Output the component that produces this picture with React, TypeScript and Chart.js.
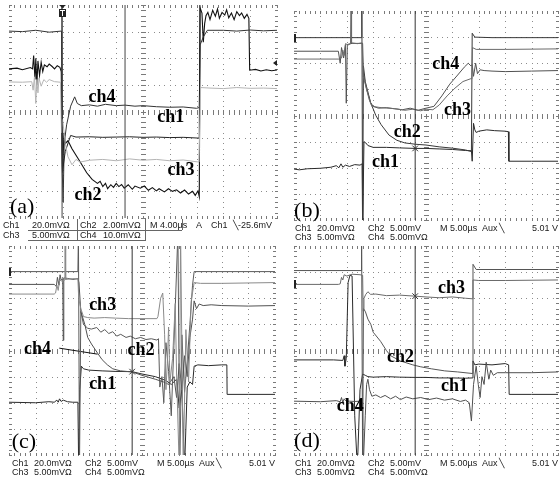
import React, { useEffect, useRef } from "react";
import { Chart, registerables } from "chart.js";
Chart.register(...registerables);

type Pt = [number, number];

// ---------- graticule (divisions) ----------
const X_DIVS = [0, 1, 2, 3, 4, 5, 6, 7, 8, 9, 10];
const Y_DIVS = [-4, -3, -2, -1, 0, 1, 2, 3, 4];

// ---------- panel (a) : 4.00 us/div ----------
const A_CH1: Pt[] = [[0,5],[1.97,5],[2.0,-2.2],[2.1,-1.5],[2.3,-0.9],[2.5,-0.96],[3,-0.95],[3.5,-0.97],[4,-0.96],[4.5,-0.95],[5,-0.97],[5.5,-0.96],[6,-0.98],[6.5,-0.97],[7.1,-1.0],[7.13,5],[10,5]];
const A_CH2: Pt[] = [[0,1.6],[0.3,1.63],[0.5,1.57],[0.8,1.65],[0.88,1.6],[0.92,2.1],[0.97,1.2],[1.0,2.0],[1.04,1.0],[1.08,1.9],[1.14,1.35],[1.2,1.85],[1.26,1.5],[1.32,1.75],[1.42,1.68],[1.5,1.78],[1.6,1.7],[1.7,1.6],[1.8,1.72],[1.9,1.66],[1.95,1.5],[1.98,-1.5],[2.0,-2.3],[2.05,-0.8],[2.1,-1.2],[2.2,-1.1],[2.35,-1.4],[2.6,-1.8],[2.9,-2.3],[3.1,-2.55],[3.3,-2.7],[3.4,-2.62],[3.5,-2.82],[3.6,-2.7],[3.68,-2.9],[3.8,-2.75],[3.9,-2.85],[4.0,-2.7],[4.1,-2.82],[4.2,-2.74],[4.3,-2.88],[4.45,-2.75],[4.6,-2.92],[4.7,-2.8],[4.9,-2.88],[5.05,-2.8],[5.2,-2.96],[5.35,-2.86],[5.5,-2.98],[5.6,-2.9],[5.8,-3.02],[5.95,-2.9],[6.1,-3.0],[6.25,-2.94],[6.4,-3.06],[6.55,-2.95],[6.7,-3.1],[6.85,-3.0],[6.95,-3.15],[7.05,-2.98],[7.1,-3.2],[7.13,3.9],[7.2,3.7],[7.25,2.6],[7.3,3.3],[7.35,3.6],[7.42,3.72],[7.5,3.45],[7.6,3.8],[7.7,3.58],[7.78,3.85],[7.85,3.5],[7.95,3.72],[8.05,3.62],[8.12,3.82],[8.2,3.52],[8.3,3.7],[8.4,3.45],[8.5,3.75],[8.6,3.6],[8.68,3.7],[8.78,3.5],[8.88,3.65],[8.95,3.5],[8.98,1.55],[9.2,1.58],[9.4,1.52],[9.6,1.57],[9.8,1.53],[10,1.56]];
const A_CH3: Pt[] = [[0,1.11],[0.5,1.1],[0.85,1.12],[0.9,0.8],[0.95,1.3],[1.0,0.3],[1.04,1.2],[1.08,0.7],[1.12,1.25],[1.2,0.95],[1.3,1.2],[1.4,1.1],[1.5,1.2],[1.7,1.12],[1.92,1.1],[1.96,-0.8],[2.0,-0.3],[2.1,-1.2],[2.2,-1.7],[2.35,-2.0],[2.5,-1.8],[2.65,-1.9],[3.0,-1.83],[3.5,-1.8],[4.0,-1.85],[4.5,-1.78],[5.0,-1.83],[5.5,-1.8],[6.0,-1.85],[6.5,-1.82],[7.09,-1.9],[7.15,0.9],[7.5,0.88],[8,0.86],[8.5,0.9],[9,0.87],[9.5,0.88],[10,0.86]];
const A_CH4: Pt[] = [[0,3.02],[0.5,3.0],[1.0,3.05],[1.5,2.98],[1.96,3.02],[1.98,-2.0],[2.02,-3.4],[2.06,-1.2],[2.15,-0.5],[2.3,0.2],[2.45,0.55],[2.55,0.3],[2.7,0.22],[3.0,0.25],[3.3,0.2],[3.6,0.27],[4.0,0.22],[4.33,0.24],[4.7,0.2],[5.0,0.22],[5.5,0.18],[6.0,0.16],[6.5,0.17],[7.0,0.12],[7.1,0.15],[7.13,2.5],[7.25,2.8],[7.4,3.05],[8,3.05],[8.5,3.02],[9,3.06],[9.5,3.03],[10,3.05]];
const A_CURSORS = [1.98, 4.33];
const A_LABELS = ["ch4", "ch1", "ch3", "ch2"];
const A_LABEL_X = [3.47, 6.04, 6.42, 2.95];
const A_LABEL_Y = [0.54, -0.21, -2.2, -3.14];

// ---------- panel (b) : 5.00 us/div ----------
const B_CH1: Pt[] = [[0,-2.05],[0.2,-2.08],[0.5,-2.04],[1.0,-2.02],[1.4,-1.98],[1.6,-1.92],[1.7,-2.0],[1.78,-1.85],[1.85,-1.98],[1.95,-1.9],[2.1,-1.95],[2.3,-1.88],[2.5,-1.9],[2.58,-1.85],[2.6,-4.5],[2.65,-1.0],[2.72,-1.05],[2.8,-1.15],[3.0,-1.22],[3.5,-1.22],[4.0,-1.24],[4.59,-1.26],[5.0,-1.26],[5.5,-1.28],[6.0,-1.3],[6.5,-1.34],[6.72,-1.35],[6.75,-1.75],[6.8,-0.3],[6.85,-0.55],[6.9,-0.65],[7.0,-0.6],[7.3,-0.55],[7.6,-0.58],[8.0,-0.6],[8.12,-0.62],[8.14,-1.75],[9,-1.75],[10,-1.75]];
const B_CH2: Pt[] = [[0,2.98],[2.55,2.98],[2.57,4.3],[2.6,-4.3],[2.63,1.9],[2.7,1.3],[2.9,0.5],[3.1,0.0],[3.3,-0.35],[3.6,-0.75],[3.9,-0.95],[4.2,-1.05],[4.6,-1.1],[5.0,-1.13],[5.5,-1.2],[6.0,-1.25],[6.5,-1.32],[6.72,-1.38],[6.75,3.15],[6.85,3.0],[7.5,2.98],[10,2.98]];
const B_CH3: Pt[] = [[0,2.16],[1.0,2.16],[1.7,2.16],[1.8,2.2],[1.85,2.5],[1.9,2.3],[1.95,2.75],[2.05,2.7],[2.14,2.75],[2.16,4.3],[2.18,2.78],[2.4,2.75],[2.58,2.78],[2.62,1.5],[2.7,1.2],[2.85,0.6],[2.95,0.35],[3.1,0.33],[3.3,0.3],[3.6,0.28],[3.9,0.25],[4.2,0.2],[4.5,0.24],[4.8,0.18],[5.0,0.24],[5.26,0.22],[5.5,0.4],[5.8,0.75],[6.1,1.05],[6.4,1.3],[6.7,1.41],[6.74,1.4],[6.76,2.6],[6.9,2.53],[8,2.53],[10,2.55]];
const B_CH4: Pt[] = [[0,2.46],[1.0,2.46],[1.68,2.46],[1.75,2.0],[1.8,2.6],[1.88,2.2],[1.95,2.7],[1.98,0.47],[2.02,2.72],[2.2,2.76],[2.5,2.76],[2.6,2.76],[2.63,1.6],[2.75,1.0],[2.9,0.5],[3.0,0.35],[3.2,0.28],[3.5,0.3],[3.8,0.26],[4.1,0.22],[4.4,0.28],[4.7,0.2],[5.0,0.28],[5.3,0.35],[5.6,0.75],[5.9,1.2],[6.2,1.55],[6.45,1.85],[6.6,2.0],[6.7,1.9],[6.75,1.95],[6.8,1.5],[6.88,2.0],[6.95,1.6],[7.05,1.75],[7.2,1.72],[7.5,1.7],[8,1.68],[9,1.7],[10,1.72]];
const B_CURSORS = [4.59];
const B_MARK: Pt[] = [[4.59, -1.26]];
const B_LABELS = ["ch4", "ch3", "ch2", "ch1"];
const B_LABEL_X = [5.75, 6.19, 4.29, 3.47];
const B_LABEL_Y = [1.97, 0.2, -0.66, -1.79];

// ---------- panel (c) ----------
const C_CH1: Pt[] = [[0,-1.98],[1.0,-2.0],[1.5,-1.96],[1.7,-1.98],[1.8,-1.9],[1.85,-1.98],[1.9,-1.85],[1.96,-1.95],[2.04,-1.9],[2.2,-1.96],[2.4,-1.98],[2.59,-1.98],[2.62,-4.5],[2.66,-1.5],[2.72,-0.6],[2.8,-0.7],[3.0,-0.75],[3.5,-0.78],[4.0,-0.8],[4.63,-0.81],[5.0,-0.9],[5.5,-1.0],[5.9,-1.15],[6.1,-1.3],[6.3,-1.1],[6.4,-2.2],[6.5,-1.5],[6.6,-4.5],[6.7,-1.4],[6.8,-1.2],[6.9,-1.3],[6.96,-0.6],[7.1,-0.55],[7.5,-0.58],[8.0,-0.55],[8.19,-0.55],[8.2,-1.68],[9,-1.68],[10,-1.68]];
const C_CH2: Pt[] = [[0,3.02],[2.59,3.02],[2.61,4.5],[2.65,-4.5],[2.7,1.5],[2.8,1.0],[2.96,0.85],[3.1,0.82],[3.3,0.88],[3.45,0.7],[3.6,0.8],[3.75,0.65],[3.9,0.72],[4.05,0.55],[4.2,0.62],[4.4,0.5],[4.56,0.55],[4.75,0.45],[4.95,0.5],[5.15,0.42],[5.35,0.45],[5.56,0.4],[5.62,0.45],[5.67,-1.4],[5.75,-1.0],[5.82,-2.0],[5.9,0.3],[6.0,-0.8],[6.1,-2.5],[6.2,0.2],[6.35,4.5],[6.42,-4.5],[6.5,0.6],[6.6,-1.6],[6.7,-0.4],[6.8,1.0],[6.9,2.5],[6.96,3.02],[10,3.02]];
const C_CH3: Pt[] = [[0,2.16],[1.7,2.16],[1.75,2.2],[1.8,2.5],[1.85,2.3],[1.9,2.7],[2.0,2.65],[2.1,2.7],[2.11,4.5],[2.13,2.72],[2.4,2.75],[2.59,2.74],[2.62,2.0],[2.7,1.6],[2.8,1.3],[2.96,1.26],[3.2,1.24],[3.6,1.26],[4.0,1.24],[4.5,1.22],[5.0,1.22],[5.56,1.22],[5.6,1.3],[5.7,2.0],[5.78,2.2],[5.85,0.6],[5.9,-1.5],[5.95,-0.5],[6.0,0.9],[6.05,-1.2],[6.15,-0.3],[6.25,1.8],[6.3,-0.9],[6.4,-4.5],[6.45,4.5],[6.55,-4.5],[6.65,0.8],[6.75,-1.2],[6.85,1.9],[6.93,2.4],[6.96,2.6],[7.2,2.57],[8,2.57],[10,2.6]];
const C_CH4: Pt[] = [[0,2.53],[1.7,2.53],[1.78,2.45],[1.82,2.8],[1.88,2.5],[1.92,2.9],[1.96,2.7],[2.02,2.75],[2.04,0.39],[2.06,2.78],[2.2,2.76],[2.4,2.72],[2.59,2.75],[2.63,2.6],[2.7,1.5],[2.85,1.0],[2.96,0.5],[3.1,0.25],[3.33,-0.1],[3.5,-0.35],[3.7,-0.55],[3.9,-0.7],[4.19,-0.78],[4.63,-0.82],[5.0,-0.95],[5.5,-1.1],[5.8,-1.2],[6.0,-1.3],[6.2,-1.0],[6.3,-1.8],[6.4,-0.5],[6.5,-1.5],[6.6,-0.2],[6.7,-1.0],[6.8,0.5],[6.9,1.2],[6.96,1.9],[7.05,1.6],[7.15,1.78],[7.3,1.72],[7.6,1.75],[8,1.72],[9,1.7],[10,1.72]];
const C_POINTER: Pt[] = [[1.89, 0.09], [3.33, -0.14]];
const C_CURSORS = [4.63];
const C_MARK: Pt[] = [[4.63, -0.81]];
const C_LABELS = ["ch3", "ch4", "ch2", "ch1"];
const C_LABEL_X = [3.52, 1.07, 4.96, 3.52];
const C_LABEL_Y = [1.71, 0.05, 0.02, -1.3];

// ---------- panel (d) ----------
const D_CH1: Pt[] = [[0,-0.36],[1.5,-0.36],[1.85,-0.38],[1.9,-0.2],[1.93,-0.6],[1.98,-0.3],[2.05,2.6],[2.12,2.88],[2.2,2.85],[2.3,-2.5],[2.4,-4.5],[2.5,-1.5],[2.6,-0.9],[2.7,-0.95],[2.8,-1.0],[3.0,-1.02],[3.5,-1.0],[4.0,-1.02],[4.59,-1.03],[5.0,-1.03],[5.5,-1.05],[6.0,-1.05],[6.5,-1.06],[6.75,-1.05],[6.78,-0.4],[6.85,-0.55],[7.0,-0.52],[7.5,-0.55],[8.0,-0.5],[8.13,-0.55],[8.15,-1.68],[9,-1.68],[10,-1.68]];
const D_CH2: Pt[] = [[0,3.06],[2.54,3.06],[2.56,4.5],[2.6,-4.5],[2.63,1.6],[2.7,1.5],[2.8,1.2],[2.91,1.0],[3.0,0.7],[3.28,0.35],[3.5,0.0],[3.66,-0.2],[4.03,-0.4],[4.5,-0.55],[4.78,-0.62],[5.2,-0.7],[5.71,-0.78],[6.2,-0.82],[6.75,-0.88],[6.78,3.3],[6.9,3.1],[8,3.1],[10,3.1]];
const D_CH3: Pt[] = [[0,2.53],[1.68,2.53],[1.75,2.55],[1.8,2.8],[1.85,2.7],[1.9,2.9],[2.0,2.85],[2.2,2.92],[2.5,2.9],[2.6,2.88],[2.62,1.5],[2.65,2.0],[2.72,2.15],[2.8,2.25],[2.9,2.15],[3.1,2.16],[3.5,2.1],[4.0,2.12],[4.59,2.08],[5.0,2.05],[5.5,2.02],[6.0,2.05],[6.5,2.0],[6.75,1.98],[6.78,2.7],[7,2.68],[8,2.68],[10,2.7]];
const D_CH4: Pt[] = [[0,-1.94],[1.0,-1.96],[1.6,-1.92],[1.75,-1.96],[1.8,-1.8],[1.85,-2.0],[1.9,-1.85],[1.98,-1.94],[2.1,-1.94],[2.3,-1.95],[2.5,-1.94],[2.6,-1.98],[2.62,-4.5],[2.7,-2.5],[2.75,-1.3],[2.8,-1.1],[2.86,-1.5],[2.95,-1.75],[3.1,-1.7],[3.28,-1.8],[3.45,-1.72],[3.66,-1.85],[3.85,-1.75],[4.03,-1.88],[4.25,-1.78],[4.5,-1.85],[4.8,-1.8],[5.1,-1.88],[5.4,-1.82],[5.7,-1.9],[6.0,-1.85],[6.3,-1.95],[6.5,-1.9],[6.64,-2.0],[6.72,-2.7],[6.75,-2.2],[6.8,-1.3],[6.9,-0.6],[6.98,-1.3],[7.05,-1.8],[7.12,-1.0],[7.2,-1.3],[7.28,-0.45],[7.38,-1.1],[7.45,-0.75],[7.55,-0.95],[7.7,-0.85],[8.0,-0.85],[9,-0.85],[10,-0.82]];
const D_CURSORS = [4.59];
const D_MARK: Pt[] = [[4.59, 2.08]];
const D_LABELS = ["ch3", "ch2", "ch1", "ch4"];
const D_LABEL_X = [5.97, 4.03, 6.08, 2.13];
const D_LABEL_Y = [2.38, -0.25, -1.38, -2.13];

const PANEL_TAGS = ["(a)", "(b)", "(c)", "(d)"];
const TAG_X = [0.49, 0.49, 0.56, 0.49];
const TAG_Y = [-3.59, -3.67, -3.52, -3.48];

// readouts
const A_ROW1 = ["Ch1", "20.0mV\u03A9", "Ch2", "2.00mV\u03A9", "M 4.00\u00B5s", "A", "Ch1", "\u2572-25.6mV"];
const A_ROW2 = ["Ch3", "5.00mV\u03A9", "Ch4", "10.0mV\u03A9"];
const BCD_ROW1 = ["Ch1", "20.0mV\u03A9", "Ch2", "5.00mV", "M 5.00\u00B5s", "Aux", "\u2572", "5.01 V"];
const BCD_ROW2 = ["Ch3", "5.00mV\u03A9", "Ch4", "5.00mV\u03A9"];

const PAD = 3;

type Trace = { pts: Pt[]; color: string; width: number };
type PanelDef = {
  idx: number;
  left: number; top: number; w: number; h: number;
  traces: Trace[];
  cursors: number[];
  cursorColor: string;
  mark?: Pt[];
  labels: string[]; lx: number[]; ly: number[];
  trigger?: boolean;
  groundY?: number;
};

const PANELS: PanelDef[] = [
  {
    idx: 0, left: 9, top: 5, w: 268, h: 213,
    traces: [
      { pts: A_CH3, color: "#b4b4b4", width: 1 },
      { pts: A_CH1, color: "#222", width: 1 },
      { pts: A_CH4, color: "#333", width: 1 },
      { pts: A_CH2, color: "#111", width: 1.1 },
    ],
    cursors: A_CURSORS, cursorColor: "#444",
    labels: A_LABELS, lx: A_LABEL_X, ly: A_LABEL_Y, trigger: true,
  },
  {
    idx: 1, left: 292, top: 9, w: 268, h: 213,
    traces: [
      { pts: B_CH3, color: "#6a6a6a", width: 1 },
      { pts: B_CH4, color: "#505050", width: 1 },
      { pts: B_CH2, color: "#383838", width: 1 },
      { pts: B_CH1, color: "#2a2a2a", width: 1 },
    ],
    cursors: B_CURSORS, cursorColor: "#333", mark: B_MARK,
    labels: B_LABELS, lx: B_LABEL_X, ly: B_LABEL_Y, groundY: 2.98,
  },
  {
    idx: 2, left: 7, top: 244, w: 270, h: 213,
    traces: [
      { pts: C_CH3, color: "#8a8a8a", width: 1 },
      { pts: C_CH4, color: "#505050", width: 1 },
      { pts: C_CH2, color: "#5a5a5a", width: 1 },
      { pts: C_CH1, color: "#2a2a2a", width: 1 },
      { pts: C_POINTER, color: "#111", width: 1 },
    ],
    cursors: C_CURSORS, cursorColor: "#333", mark: C_MARK,
    labels: C_LABELS, lx: C_LABEL_X, ly: C_LABEL_Y, groundY: 3.02,
  },
  {
    idx: 3, left: 292, top: 244, w: 268, h: 213,
    traces: [
      { pts: D_CH3, color: "#6a6a6a", width: 1 },
      { pts: D_CH2, color: "#555", width: 1 },
      { pts: D_CH4, color: "#505050", width: 1 },
      { pts: D_CH1, color: "#2a2a2a", width: 1 },
    ],
    cursors: D_CURSORS, cursorColor: "#333", mark: D_MARK,
    labels: D_LABELS, lx: D_LABEL_X, ly: D_LABEL_Y, groundY: 2.53,
  },
];

function makeConfig(p: PanelDef): any {
  const datasets: any[] = [];
  p.cursors.forEach((c) => {
    datasets.push({
      data: [{ x: c, y: -4 }, { x: c, y: 4 }],
      borderColor: p.cursorColor, borderWidth: 1, pointRadius: 0, fill: false,
    });
  });
  p.traces.forEach((t) => {
    datasets.push({
      data: t.pts.map(([x, y]) => ({ x, y })),
      borderColor: t.color, borderWidth: t.width, pointRadius: 0, fill: false,
    });
  });
  if (p.mark) {
    datasets.push({
      data: p.mark.map(([x, y]) => ({ x, y })),
      showLine: false, pointStyle: "crossRot", pointRadius: 4,
      borderColor: "#333", borderWidth: 1,
    });
  }
  const minorX: number[] = [];
  for (let k = 0; k <= 50; k++) minorX.push(k / 5);
  const minorY: number[] = [];
  for (let k = 0; k <= 40; k++) minorY.push(-4 + k / 5);

  const plugin = {
    id: "scope" + p.idx,
    beforeDatasetsDraw(chart: any) {
      const { ctx } = chart;
      const xs = chart.scales.x, ys = chart.scales.y;
      const X = (v: number) => Math.round(xs.getPixelForValue(v));
      const Y = (v: number) => Math.round(ys.getPixelForValue(v));
      ctx.save();
      ctx.fillStyle = "#8c8c8c";
      X_DIVS.forEach((d) => minorY.forEach((v) => ctx.fillRect(X(d), Y(v), 1, 1)));
      Y_DIVS.forEach((d) => minorX.forEach((u) => ctx.fillRect(X(u), Y(d), 1, 1)));
      ctx.fillStyle = "#7a7a7a";
      const cx = X(5), cy = Y(0), l = X(0), r = X(10), t = Y(4), b = Y(-4);
      minorY.forEach((v) => {
        ctx.fillRect(cx - 2, Y(v), 5, 1);
        ctx.fillRect(l, Y(v), 3, 1);
        ctx.fillRect(r - 2, Y(v), 3, 1);
      });
      minorX.forEach((u) => {
        ctx.fillRect(X(u), cy - 2, 1, 5);
        ctx.fillRect(X(u), t, 1, 3);
        ctx.fillRect(X(u), b - 2, 1, 3);
      });
      ctx.restore();
    },
    afterDatasetsDraw(chart: any) {
      const { ctx } = chart;
      const xs = chart.scales.x, ys = chart.scales.y;
      ctx.save();
      ctx.fillStyle = "#000";
      ctx.textAlign = "center";
      ctx.textBaseline = "middle";
      ctx.font = 'bold 18px "Liberation Serif", "Times New Roman", serif';
      p.labels.forEach((s, i) => {
        ctx.fillText(s, xs.getPixelForValue(p.lx[i]), ys.getPixelForValue(p.ly[i]));
      });
      ctx.font = '22px "Liberation Serif", "Times New Roman", serif';
      ctx.fillText(PANEL_TAGS[p.idx], xs.getPixelForValue(TAG_X[p.idx]), ys.getPixelForValue(TAG_Y[p.idx]));
      ctx.fillStyle = "#222";
      if (p.trigger) {
        const tx = Math.round(xs.getPixelForValue(A_CURSORS[0]));
        const ty = Math.round(ys.getPixelForValue(4));
        ctx.beginPath();
        ctx.moveTo(tx - 3, ty); ctx.lineTo(tx + 4, ty); ctx.lineTo(tx + 0.5, ty + 3);
        ctx.closePath(); ctx.fill();
        ctx.fillRect(tx - 3, ty + 4, 7, 8);
        ctx.fillStyle = "#fff";
        ctx.fillRect(tx - 2, ty + 5, 5, 1);
        ctx.fillRect(tx, ty + 5, 1, 6);
        ctx.fillStyle = "#222";
        const rx = Math.round(xs.getPixelForValue(10));
        const ry = Math.round(ys.getPixelForValue(1.82));
        ctx.beginPath();
        ctx.moveTo(rx, ry - 3); ctx.lineTo(rx, ry + 3); ctx.lineTo(rx - 4, ry);
        ctx.closePath(); ctx.fill();
      }
      if (p.groundY !== undefined) {
        const gx = Math.round(xs.getPixelForValue(0));
        const gy = Math.round(ys.getPixelForValue(p.groundY));
        ctx.fillRect(gx, gy - 4, 2, 8);
      }
      ctx.restore();
    },
  };

  return {
    type: "line",
    data: { datasets },
    options: {
      animation: false,
      responsive: false,
      maintainAspectRatio: false,
      events: [],
      layout: { padding: PAD },
      plugins: { legend: { display: false }, tooltip: { enabled: false } },
      elements: { line: { tension: 0 }, point: { radius: 0 } },
      scales: {
        x: { type: "linear", min: 0, max: 10, display: false },
        y: { type: "linear", min: -4, max: 4, display: false },
      },
    },
    plugins: [plugin],
  };
}

function Panel({ p }: { p: PanelDef }) {
  const ref = useRef<HTMLCanvasElement>(null);
  useEffect(() => {
    const chart = new Chart(ref.current as HTMLCanvasElement, makeConfig(p));
    return () => chart.destroy();
  }, []);
  return (
    <canvas
      ref={ref}
      width={p.w + 2 * PAD}
      height={p.h + 2 * PAD}
      style={{ position: "absolute", left: p.left - PAD, top: p.top - PAD, width: p.w + 2 * PAD, height: p.h + 2 * PAD }}
    />
  );
}

const txt: React.CSSProperties = {
  position: "absolute",
  font: '9px "Liberation Sans", Arial, sans-serif',
  lineHeight: "10px",
  whiteSpace: "pre",
  color: "#1a1a1a",
};

function Row({ items, xs, cy }: { items: string[]; xs: number[]; cy: number }) {
  return (
    <>
      {items.map((s, i) => (
        <div key={i} style={{ ...txt, left: xs[i], top: cy - 5 }}>{s}</div>
      ))}
    </>
  );
}

const line = (l: number, t: number, w: number, h: number): React.CSSProperties => ({
  position: "absolute", left: l, top: t, width: w, height: h, background: "#666",
});

export default function App() {
  const bx = (L: number) => [L + 3, L + 25, L + 76, L + 98, L + 148, L + 190, L + 207, L + 240];
  const bx2 = (L: number) => [L + 3, L + 25, L + 76, L + 98];
  return (
    <div style={{ position: "fixed", left: 0, top: 0, width: 560, height: 478, background: "#fff", overflow: "hidden" }}>
      {PANELS.map((p) => <Panel key={p.idx} p={p} />)}
      {/* (a) readout */}
      <Row items={A_ROW1} xs={[3, 32, 80, 103, 150, 196, 211, 233]} cy={225} />
      <Row items={A_ROW2} xs={[3, 32, 80, 103]} cy={235} />
      <div style={line(77, 219, 1, 21)} />
      <div style={line(145, 219, 1, 21)} />
      <div style={line(182, 219, 1, 11)} />
      <div style={line(28, 230, 154, 1)} />
      <div style={line(28, 240, 118, 1)} />
      {/* (b) readout */}
      <Row items={BCD_ROW1} xs={bx(292)} cy={228} />
      <Row items={BCD_ROW2} xs={bx2(292)} cy={237} />
      {/* (c) readout */}
      <Row items={BCD_ROW1} xs={bx(9)} cy={463} />
      <Row items={BCD_ROW2} xs={bx2(9)} cy={472} />
      {/* (d) readout */}
      <Row items={BCD_ROW1} xs={bx(292)} cy={463} />
      <Row items={BCD_ROW2} xs={bx2(292)} cy={472} />
    </div>
  );
}
